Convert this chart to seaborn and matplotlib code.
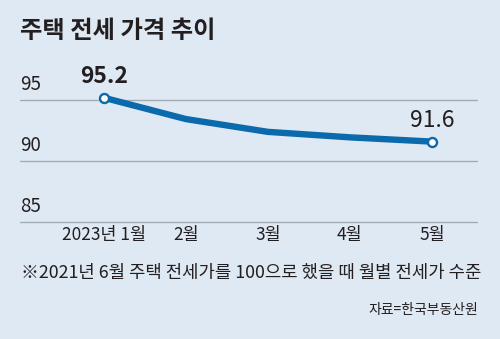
import matplotlib
matplotlib.use("Agg")
import matplotlib.pyplot as plt
import seaborn as sns
import pandas as pd

months = ["2023년 1월", "2월", "3월", "4월", "5월"]
values = [95.2, 93.45, 92.4, 91.95, 91.6]
y_ticks = [85, 90, 95]
title = "주택 전세 가격 추이"
note = "※2021년 6월 주택 전세가를 100으로 했을 때 월별 전세가 수준"
source = "자료=한국부동산원"

sns.set_theme(style="white")
plt.rcParams['font.family'] = ['Noto Sans CJK KR', 'DejaVu Sans']

BG = "#dfe9f4"
BLUE = "#0b6aab"
GRID = "#a3abb3"
TXT = "#231f20"

df = pd.DataFrame({"x": range(len(months)), "month": months, "value": values})

fig = plt.figure(figsize=(5, 3.39), dpi=100, facecolor=BG)
ax = fig.add_axes([20/500, (339-222)/339, (477-20)/500, (222-60)/339])
ax.set_facecolor(BG)

for y in y_ticks:
    ax.axhline(y, color=GRID, lw=1.0, zorder=1, clip_on=False)

sns.lineplot(data=df, x="x", y="value", ax=ax, color=BLUE, lw=4.6,
             solid_capstyle="round", solid_joinstyle="round", zorder=3,
             marker="o", markevery=[0, len(values)-1], markersize=6.5,
             markerfacecolor="white", markeredgecolor=BLUE, markeredgewidth=1.7)

ax.set_xlim(-1.024, 4.55)
ax.set_ylim(85, 98.3)
for s in ax.spines.values():
    s.set_visible(False)
ax.set_xlabel("")
ax.set_ylabel("")
ax.set_yticks([])
ax.set_xticks(df["x"])
ax.set_xticklabels(months, fontsize=12.5, color=TXT)
ax.tick_params(axis="x", direction="in", length=6.5, width=1.0, color=GRID, pad=3)

for y in y_ticks:
    ax.text(0.0, y + 0.45, str(y), transform=ax.get_yaxis_transform(),
            ha="left", va="bottom", fontsize=13.5, color=TXT)

ax.annotate(f"{values[0]}", (0, values[0]), xytext=(0, 7), textcoords="offset points",
            ha="center", va="bottom", fontsize=16.5, fontweight="bold", color=TXT)
ax.annotate(f"{values[-1]}", (4, values[-1]), xytext=(0, 7), textcoords="offset points",
            ha="center", va="bottom", fontsize=16.5, fontweight="medium", color=TXT)

fig.text(20/500, 1 - 31/339, title, ha="left", va="center", fontsize=17.5,
         fontweight="bold", color=TXT)
fig.text(21/500, 1 - 273/339, note, ha="left", va="center", fontsize=12.8, color=TXT)
fig.text(478/500, 1 - 310/339, source, ha="right", va="center", fontsize=10, color=TXT)

fig.savefig("out.png", dpi=100, facecolor=BG)
